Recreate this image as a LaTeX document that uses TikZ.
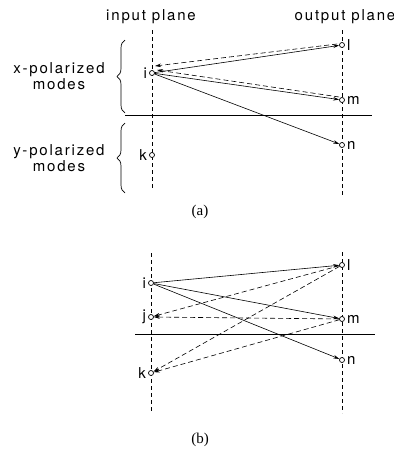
\documentclass[tikz,border=0pt]{standalone}
\usepackage{fontspec}
\setmainfont{Liberation Serif}
\newfontfamily\lblfont[LetterSpace=12]{TeX Gyre Heros}
\usetikzlibrary{arrows.meta,positioning,decorations.pathreplacing}

\begin{document}
\begin{tikzpicture}[x=1pt, y=-1pt,
  pt/.style={circle, draw, fill=white, inner sep=0pt, minimum size=5pt, line width=0.7pt},
  lab/.style={font=\lblfont\fontsize{15}{16}\selectfont, inner sep=1pt, align=center},
  caption/.style={font=\fontsize{15}{17}\selectfont},
  plane/.style={line width=0.7pt, dash pattern=on 4pt off 3pt},
  sol/.style={-{Stealth[length=6pt,width=3.5pt]}, line width=0.6pt},
  dsh/.style={sol, dash pattern=on 5pt off 3pt},
  brc/.style={decorate, decoration={brace, amplitude=8pt}, line width=0.7pt}
]
\useasboundingbox (0,0) rectangle (394,464);
% (a)
\node[lab] (inp) at (151,17) {input plane};
\node[lab] (outp) at (345,17) {output plane};
\draw[plane] (152,30) -- (152,190);
\draw[plane] (342,30) -- (342,197);
\draw[line width=0.7pt] (125,115) -- (372,115);
\draw[brc] (125,113) -- (125,40);
\draw[brc] (125,193) -- (125,123);
\node[lab] (xmod) at (59,76) {x-polarized\\modes};
\node[lab] (ymod) at (59,158) {y-polarized\\modes};
\node[pt] (ia) at (152,73) {};
\node[pt] (ka) at (152,155) {};
\node[pt] (la) at (342,45) {};
\node[pt] (ma) at (342,100) {};
\node[pt] (na) at (342,145) {};
\node[lab, left=1pt of ia] (tia) {i};
\node[lab, left=1pt of ka] (tka) {k};
\node[lab, right=1pt of la] (tla) {l};
\node[lab, right=1pt of ma] (tma) {m};
\node[lab, right=1pt of na] (tna) {n};
\draw[sol] (ia) -- (la);
\draw[sol] (ia) -- (ma);
\draw[sol] (ia) -- (na);
\draw[dsh] ([xshift=-2pt,yshift=1pt]la.west) -- ([xshift=3pt,yshift=7pt]ia.center);
\draw[dsh] ([yshift=3pt]ma.west) -- ([xshift=5pt,yshift=3pt]ia.center);
\node[caption] (capa) at (200,212) {(a)};
% (b)
\draw[plane] (151,253) -- (151,413);
\draw[plane] (342,252) -- (342,413);
\draw[line width=0.7pt] (135,334) -- (375,334);
\node[pt] (ib) at (151,283) {};
\node[pt] (jb) at (151,317) {};
\node[pt] (kb) at (151,373) {};
\node[pt] (lb) at (342,265) {};
\node[pt] (mb) at (342,319) {};
\node[pt] (nb) at (342,360) {};
\node[lab, left=1pt of ib] (tib) {i};
\node[lab, left=1pt of jb] (tjb) {j};
\node[lab, left=1pt of kb] (tkb) {k};
\node[lab, right=1pt of lb] (tlb) {l};
\node[lab, right=1pt of mb] (tmb) {m};
\node[lab, right=1pt of nb] (tnb) {n};
\draw[sol] (ib) -- (lb);
\draw[sol] (ib) -- (mb);
\draw[sol] (ib) -- (nb);
\draw[dsh] (lb) -- (jb);
\draw[dsh] (lb) -- (kb);
\draw[dsh] (mb) -- (jb);
\draw[dsh] (mb) -- (kb);
\node[caption] (capb) at (200,440) {(b)};
\end{tikzpicture}
\end{document}
